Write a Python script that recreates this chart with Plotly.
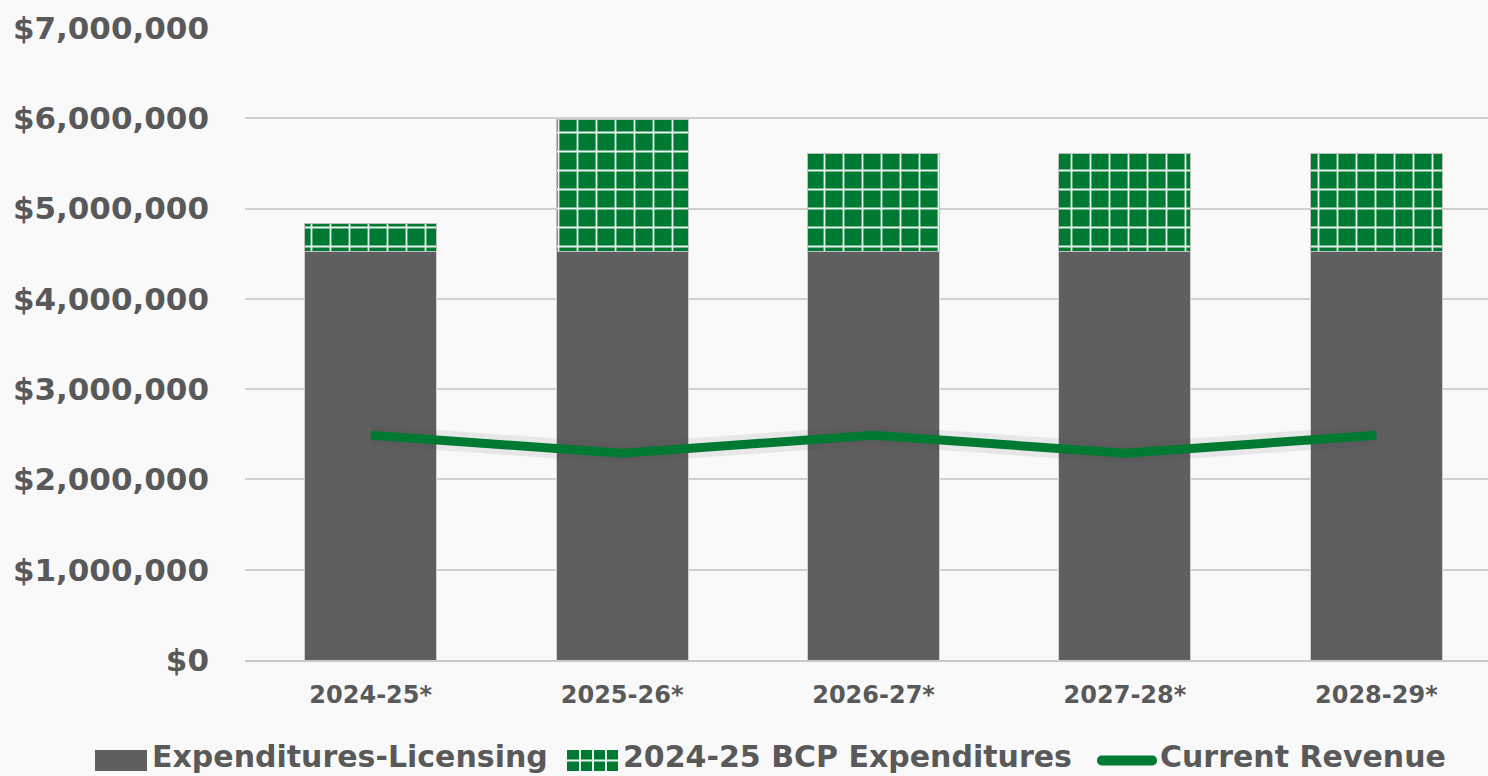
import plotly.graph_objects as go

categories = ["2024-25*", "2025-26*", "2026-27*", "2027-28*", "2028-29*"]
licensing = [4520000, 4520000, 4520000, 4520000, 4520000]
bcp = [320000, 1470000, 1090000, 1090000, 1090000]
revenue = [2490000, 2290000, 2490000, 2290000, 2490000]
y_ticks = [0, 1000000, 2000000, 3000000, 4000000, 5000000, 6000000, 7000000]
y_tick_text = ["$0", "$1,000,000", "$2,000,000", "$3,000,000", "$4,000,000",
               "$5,000,000", "$6,000,000", "$7,000,000"]
legend_names = ["Expenditures-Licensing", "2024-25 BCP Expenditures", "Current Revenue"]

GREY = "#5F5F5F"
GREEN = "#007A33"
TEXT = "#595959"
BG = "#F9F9F9"

W, H = 1488, 776
ML, MR, MT, MB = 245, 0, 28, 116
PW, PH = W - ML - MR, H - MT - MB


def px(x):
    return (x - ML) / PW


def py(y):
    return (H - MB - y) / PH


fig = go.Figure()
fig.add_trace(go.Bar(
    x=categories, y=licensing, name=legend_names[0], showlegend=False,
    marker=dict(color=GREY, line=dict(color="#D0D0D0", width=1)),
    width=0.525,
))
fig.add_trace(go.Bar(
    x=categories, y=bcp, name=legend_names[1], showlegend=False,
    marker=dict(color=GREEN, line=dict(color="#C0C0C0", width=1),
                pattern=dict(shape="+", fgcolor="#E8F2EC", bgcolor=GREEN,
                             size=19, solidity=0.18, fillmode="replace")),
    width=0.525,
))
fig.add_trace(go.Scatter(
    x=categories, y=revenue, mode="lines", showlegend=False, hoverinfo="skip",
    line=dict(color="rgba(60,60,60,0.09)", width=20),
))
fig.add_trace(go.Scatter(
    x=categories, y=revenue, mode="lines", name=legend_names[2], showlegend=False,
    line=dict(color=GREEN, width=9),
))

# custom legend (symbols as shapes, labels as text)
shapes = []
annotations = []
ly0, ly1 = 750, 771
ym = 760.5
shapes.append(dict(type="rect", xref="paper", yref="paper",
                   x0=px(95), x1=px(147), y0=py(ly1), y1=py(ly0),
                   fillcolor=GREY, line=dict(width=0), layer="above"))
shapes.append(dict(type="rect", xref="paper", yref="paper",
                   x0=px(567), x1=px(618), y0=py(ly1), y1=py(ly0),
                   fillcolor=GREEN, line=dict(width=0), layer="above"))
for xv in [580, 593, 606]:
    shapes.append(dict(type="line", xref="paper", yref="paper",
                       x0=px(xv), x1=px(xv), y0=py(ly1), y1=py(ly0),
                       line=dict(color="#E8F2EC", width=2), layer="above"))
shapes.append(dict(type="line", xref="paper", yref="paper",
                   x0=px(567), x1=px(618), y0=py(ym), y1=py(ym),
                   line=dict(color="#E8F2EC", width=2), layer="above"))
# rounded line symbol
a, b, t, m, bt = 1097, 1157, 755.5, 760.5, 765.5
pts = (f"M{px(a+5)},{py(t)} L{px(b-5)},{py(t)} "
       f"C{px(b-2)},{py(t)} {px(b)},{py(t+2)} {px(b)},{py(m)} "
       f"C{px(b)},{py(bt-2)} {px(b-2)},{py(bt)} {px(b-5)},{py(bt)} "
       f"L{px(a+5)},{py(bt)} "
       f"C{px(a+2)},{py(bt)} {px(a)},{py(bt-2)} {px(a)},{py(m)} "
       f"C{px(a)},{py(t+2)} {px(a+2)},{py(t)} {px(a+5)},{py(t)} Z")
shapes.append(dict(type="path", xref="paper", yref="paper", path=pts,
                   fillcolor=GREEN, line=dict(width=0), layer="above"))
for name, xs in zip(legend_names, [150, 621, 1158]):
    annotations.append(dict(
        text=name, xref="paper", yref="paper", x=px(xs), y=py(756),
        xanchor="left", yanchor="middle", showarrow=False,
        font=dict(size=30, color=TEXT, family="DejaVu Sans", weight="bold"),
    ))

fig.update_layout(
    barmode="stack",
    width=W, height=H,
    paper_bgcolor=BG, plot_bgcolor=BG,
    margin=dict(l=ML, r=MR, t=MT, b=MB),
    font=dict(family="DejaVu Sans", color=TEXT),
    bargap=0.475,
    showlegend=False,
    shapes=shapes,
    annotations=annotations,
)
fig.update_xaxes(
    type="category", range=[-0.5, 4.444],
    tickfont=dict(size=24, color=TEXT, family="DejaVu Sans", weight="bold"),
    showgrid=False, zeroline=False,
    showline=True, linecolor="#C8C8C8", linewidth=2,
    ticks="", ticklabelstandoff=12,
)
fig.update_yaxes(
    range=[0, 7000000], tickvals=y_ticks, ticktext=y_tick_text,
    tickfont=dict(size=31, color=TEXT, family="DejaVu Sans", weight="bold"),
    showgrid=True, gridcolor="#D0D0D0", gridwidth=2,
    zeroline=False, showline=False, ticks="", ticklabelstandoff=35,
)

fig.write_html("out.html", config={"displayModeBar": False},
               post_script="document.body.style.margin='0';document.body.style.overflow='hidden';")
